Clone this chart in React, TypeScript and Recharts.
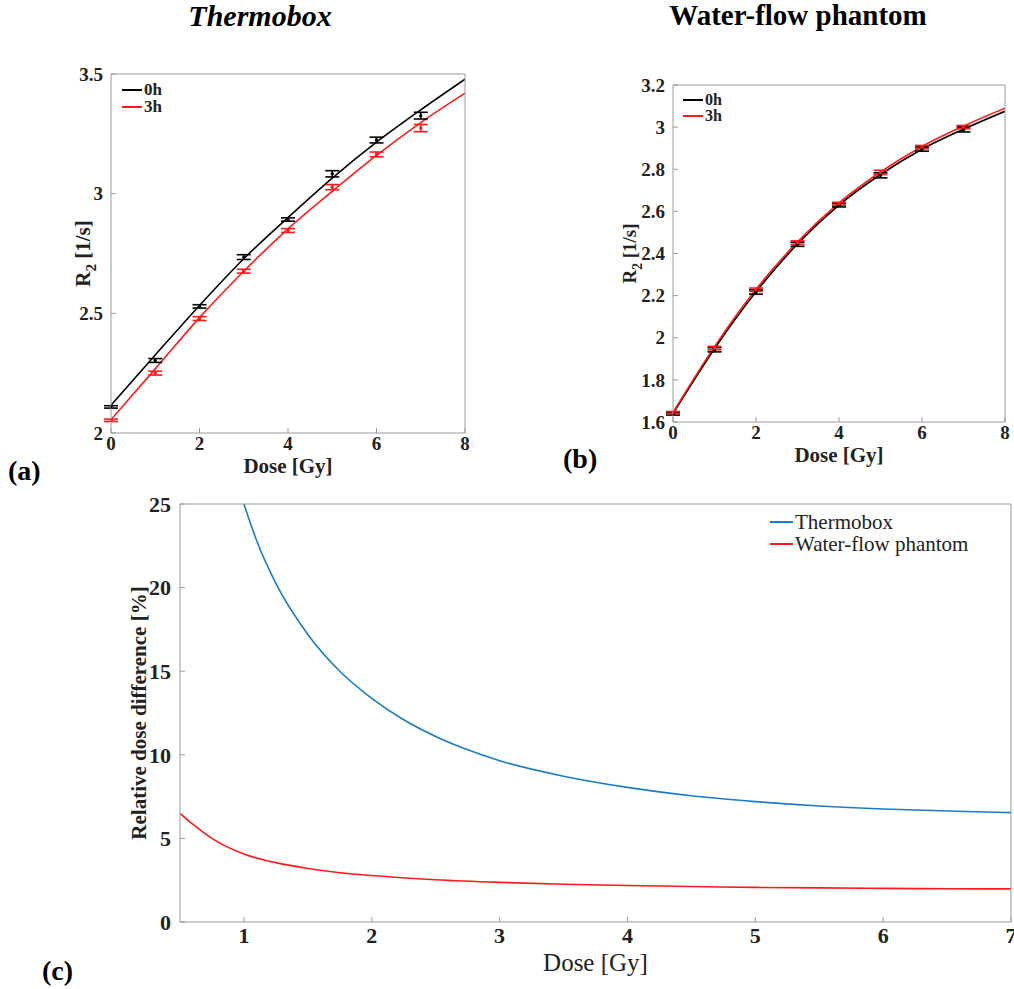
import {
  ComposedChart, Line, Scatter, XAxis, YAxis, ErrorBar, Legend, Label,
} from 'recharts'

const FONT = '"Liberation Serif", "DejaVu Serif", serif'
const AXIS = '#9a9a9a'
const INK = '#222'
const BLUE = '#1a7cc9'
const RED = '#ff1a1a'

// measured doses (Gy) and fit grid
const doses = [0, 1, 2, 3, 4, 5, 6, 7]
const fitDoses = [0, 1, 2, 3, 4, 5, 6, 7, 8]
const fitNames = ['0h', '3h']

// (a) Thermobox
const thermo0h = [2.109, 2.303, 2.529, 2.735, 2.892, 3.083, 3.224, 3.326]
const thermo0hErr = [0.005, 0.008, 0.007, 0.01, 0.007, 0.013, 0.012, 0.014]
const thermo3h = [2.053, 2.25, 2.478, 2.676, 2.846, 3.027, 3.164, 3.274]
const thermo3hErr = [0.005, 0.008, 0.008, 0.008, 0.008, 0.011, 0.01, 0.015]
const thermoFit0h = [2.116, 2.326, 2.533, 2.728, 2.9, 3.065, 3.215, 3.35, 3.478]
const thermoFit3h = [2.056, 2.268, 2.482, 2.676, 2.853, 3.01, 3.16, 3.297, 3.42]

// (b) Water-flow phantom
const water0h = [1.639, 1.943, 2.217, 2.444, 2.629, 2.771, 2.896, 2.989]
const water0hErr = [0.006, 0.01, 0.01, 0.01, 0.008, 0.012, 0.01, 0.012]
const water3h = [1.645, 1.951, 2.228, 2.452, 2.636, 2.785, 2.905, 3.0]
const water3hErr = [0.005, 0.008, 0.008, 0.008, 0.007, 0.01, 0.008, 0.008]
const waterFit0h = [1.64, 1.948, 2.218, 2.445, 2.63, 2.775, 2.895, 2.99, 3.075]
const waterFit3h = [1.645, 1.958, 2.23, 2.455, 2.64, 2.787, 2.908, 3.005, 3.09]

// (c) relative dose difference [%]
const diffNames = ['Thermobox', 'Water-flow phantom']
const thermoDiffDose = [1.0, 1.1, 1.25, 1.5, 1.75, 2.0, 2.25, 2.5, 2.75, 3.0, 3.5, 4.0, 4.5, 5.0, 5.5, 6.0, 6.5, 7.0]
const thermoDiff = [25.0, 22.8, 20.25, 17.2, 15.0, 13.38, 12.1, 11.1, 10.3, 9.65, 8.72, 8.05, 7.55, 7.2, 6.94, 6.76, 6.64, 6.54]
const waterDiffDose = [0.5, 0.6, 0.75, 1.0, 1.25, 1.5, 1.75, 2.0, 2.5, 3.0, 3.5, 4.0, 4.5, 5.0, 5.5, 6.0, 6.5, 7.0]
const waterDiff = [6.5, 5.85, 5.0, 4.06, 3.55, 3.2, 2.95, 2.78, 2.53, 2.37, 2.26, 2.18, 2.12, 2.07, 2.04, 2.01, 1.99, 1.98]

const abXTicks = [0, 2, 4, 6, 8]
const aYTicks = [2, 2.5, 3, 3.5]
const bYTicks = [1.6, 1.8, 2, 2.2, 2.4, 2.6, 2.8, 3, 3.2]
const cXTicks = [1, 2, 3, 4, 5, 6, 7]
const cYTicks = [0, 5, 10, 15, 20, 25]

type Pt = { d: number; r: number; e?: number }
const pts = (xs: number[], ys: number[], es?: number[]): Pt[] =>
  xs.map((d, i) => ({ d, r: ys[i], e: es ? es[i] : undefined }))

const dot = (color: string) => (p: any) => <circle cx={p.cx} cy={p.cy} r={1.7} fill={color} />

function R2Title({ viewBox, dx, size }: any) {
  const cx = viewBox.x + dx
  const cy = viewBox.y + viewBox.height / 2
  return (
    <text x={cx} y={cy} transform={`rotate(-90 ${cx} ${cy})`} textAnchor="middle"
      fontFamily={FONT} fontWeight="bold" fontSize={size} fill={INK}>
      R<tspan dy={size * 0.3} fontSize={size * 0.72}>2</tspan>
      <tspan dy={-size * 0.3}> [1/s]</tspan>
    </text>
  )
}

function DoseTitle({ viewBox, dy, size, weight }: any) {
  return (
    <text x={viewBox.x + viewBox.width / 2} y={viewBox.y + dy} textAnchor="middle"
      fontFamily={FONT} fontWeight={weight} fontSize={size} fill={INK}>Dose [Gy]</text>
  )
}

function KeyBox({ payload, names, size, row, lineW, weight }: any) {
  const items = (payload || []).filter((p: any) => names.includes(p.value))
  return (
    <div style={{ fontFamily: FONT, fontWeight: weight, fontSize: size, lineHeight: `${row}px`, color: INK }}>
      {items.map((p: any) => (
        <div key={p.value} style={{ display: 'flex', alignItems: 'center', height: row, whiteSpace: 'nowrap' }}>
          <span style={{ display: 'inline-block', width: lineW, height: 2, background: p.color, marginRight: 2 }} />
          {p.value}
        </div>
      ))}
    </div>
  )
}

const abTick = { fill: INK, fontFamily: FONT, fontSize: 19, fontWeight: 'bold' }

function FitPanel(props: {
  width: number; height: number; margin: any; yW: number; xH: number
  yDomain: [number, number]; yTicks: number[]
  m0: Pt[]; m3: Pt[]; f0: Pt[]; f3: Pt[]
  yTitleDx: number; yTitleSize: number; xTitleDy: number
  legendPos: { left: number; top: number }; legendRow: number; legendSize: number
}) {
  const p = props
  return (
    <ComposedChart width={p.width} height={p.height} margin={p.margin}>
      <XAxis dataKey="d" type="number" domain={[0, 8]} ticks={abXTicks} interval={0} allowDataOverflow
        height={p.xH} tickSize={-5} tickMargin={9} stroke={AXIS} tick={abTick}>
        <Label content={(lp: any) => <DoseTitle viewBox={lp.viewBox} dy={p.xTitleDy} size={21} weight="bold" />} />
      </XAxis>
      <YAxis dataKey="r" type="number" domain={p.yDomain} ticks={p.yTicks} interval={0} allowDataOverflow
        width={p.yW} tickSize={-5} tickMargin={13} stroke={AXIS} tick={abTick}>
        <Label content={(lp: any) => <R2Title viewBox={lp.viewBox} dx={p.yTitleDx} size={p.yTitleSize} />} />
      </YAxis>
      <XAxis xAxisId="top" orientation="top" dataKey="d" type="number" domain={[0, 8]} ticks={abXTicks} interval={0}
        allowDataOverflow height={1} tick={false} tickSize={-5} stroke={AXIS} />
      <YAxis yAxisId="right" orientation="right" type="number" domain={p.yDomain} ticks={p.yTicks} interval={0}
        allowDataOverflow width={1} tick={false} tickSize={-5} stroke={AXIS} />
      {/* invisible copy so the box axes (top/right) get drawn */}
      <Line xAxisId="top" yAxisId="right" data={p.f0} dataKey="r" name="box" stroke="none" legendType="none"
        dot={false} activeDot={false} isAnimationActive={false} />
      <Line data={p.f0} dataKey="r" name="0h" type="monotone" stroke="#000" strokeWidth={1.6}
        dot={false} activeDot={false} isAnimationActive={false} />
      <Line data={p.f3} dataKey="r" name="3h" type="monotone" stroke={RED} strokeWidth={1.6}
        dot={false} activeDot={false} isAnimationActive={false} />
      <Scatter data={p.m0} dataKey="r" legendType="none" shape={dot('#000')} isAnimationActive={false}>
        <ErrorBar dataKey="e" direction="y" width={7} stroke="#000" strokeWidth={1.6} />
      </Scatter>
      <Scatter data={p.m3} dataKey="r" legendType="none" shape={dot(RED)} isAnimationActive={false}>
        <ErrorBar dataKey="e" direction="y" width={7} stroke={RED} strokeWidth={1.6} />
      </Scatter>
      <Legend layout="vertical" align="center" verticalAlign="middle"
        wrapperStyle={{ left: p.legendPos.left, top: p.legendPos.top, width: 'auto', height: 'auto' }}
        content={(lp: any) => <KeyBox payload={lp.payload} names={fitNames} size={p.legendSize} row={p.legendRow} lineW={20} weight="bold" />} />
    </ComposedChart>
  )
}

function DiffPanel() {
  const cTick = { fill: INK, fontFamily: FONT, fontSize: 22, fontWeight: 'bold' }
  const thermo = pts(thermoDiffDose, thermoDiff)
  return (
    <ComposedChart width={1014} height={499} margin={{ top: 13, right: 2, bottom: 0, left: 0 }}>
      <XAxis dataKey="d" type="number" domain={[0.5, 7]} ticks={cXTicks} interval={0} allowDataOverflow
        height={67} tickSize={-5} tickMargin={10} stroke={AXIS} tick={cTick}>
        <Label content={(lp: any) => <DoseTitle viewBox={lp.viewBox} dy={49} size={25} weight="normal" />} />
      </XAxis>
      <YAxis dataKey="r" type="number" domain={[0, 25]} ticks={cYTicks} interval={0} allowDataOverflow
        width={180} tickSize={-5} tickMargin={14} stroke={AXIS} tick={cTick}>
        <Label content={(lp: any) => {
          const cx = lp.viewBox.x + 146
          const cy = lp.viewBox.y + lp.viewBox.height / 2
          return (
            <text x={cx} y={cy} transform={`rotate(-90 ${cx} ${cy})`} textAnchor="middle"
              fontFamily={FONT} fontWeight="bold" fontSize={21} fill={INK}>Relative dose difference [%]</text>
          )
        }} />
      </YAxis>
      <XAxis xAxisId="top" orientation="top" dataKey="d" type="number" domain={[0.5, 7]} ticks={cXTicks} interval={0}
        allowDataOverflow height={1} tick={false} tickSize={-5} stroke={AXIS} />
      <YAxis yAxisId="right" orientation="right" type="number" domain={[0, 25]} ticks={cYTicks} interval={0}
        allowDataOverflow width={1} tick={false} tickSize={-5} stroke={AXIS} />
      <Line xAxisId="top" yAxisId="right" data={thermo} dataKey="r" name="box" stroke="none" legendType="none"
        dot={false} activeDot={false} isAnimationActive={false} />
      <Line data={thermo} dataKey="r" name={diffNames[0]} type="monotone" stroke={BLUE}
        strokeWidth={1.6} dot={false} activeDot={false} isAnimationActive={false} />
      <Line data={pts(waterDiffDose, waterDiff)} dataKey="r" name={diffNames[1]} type="monotone" stroke={RED}
        strokeWidth={1.6} dot={false} activeDot={false} isAnimationActive={false} />
      <Legend layout="vertical" align="center" verticalAlign="middle"
        wrapperStyle={{ left: 770, top: 21, width: 'auto', height: 'auto' }}
        content={(lp: any) => <KeyBox payload={lp.payload} names={diffNames} size={21} row={22} lineW={23} weight="normal" />} />
    </ComposedChart>
  )
}

export default function App() {
  return (
    <div style={{ position: 'absolute', left: 0, top: 0, width: 1014, height: 989, background: '#fff', overflow: 'hidden' }}>
      <div style={{ position: 'absolute', left: 0, top: 0 }}>
        <FitPanel width={480} height={480} margin={{ top: 73, right: 14, bottom: 0, left: 0 }} yW={111} xH={47}
          yDomain={[2, 3.5]} yTicks={aYTicks}
          m0={pts(doses, thermo0h, thermo0hErr)} m3={pts(doses, thermo3h, thermo3hErr)}
          f0={pts(fitDoses, thermoFit0h)} f3={pts(fitDoses, thermoFit3h)}
          yTitleDx={90} yTitleSize={21} xTitleDy={40}
          legendPos={{ left: 122, top: 81 }} legendRow={17} legendSize={17} />
      </div>
      <div style={{ position: 'absolute', left: 560, top: 0 }}>
        <FitPanel width={454} height={470} margin={{ top: 84, right: 8, bottom: 0, left: 0 }} yW={113} xH={48}
          yDomain={[1.6, 3.2]} yTicks={bYTicks}
          m0={pts(doses, water0h, water0hErr)} m3={pts(doses, water3h, water3hErr)}
          f0={pts(fitDoses, waterFit0h)} f3={pts(fitDoses, waterFit3h)}
          yTitleDx={76} yTitleSize={19} xTitleDy={40}
          legendPos={{ left: 123, top: 92 }} legendRow={16} legendSize={16} />
      </div>
      <div style={{ position: 'absolute', left: 0, top: 490 }}>
        <DiffPanel />
      </div>
      <svg width={1014} height={989} style={{ position: 'absolute', left: 0, top: 0, pointerEvents: 'none' }}
        fontFamily={FONT} fill="#000">
        <text x={260} y={26} textAnchor="middle" fontStyle="italic" fontWeight="bold" fontSize={30}>Thermobox</text>
        <text x={798} y={25} textAnchor="middle" fontWeight="bold" fontSize={29}>Water-flow phantom</text>
        <text x={8} y={480} fontWeight="bold" fontSize={28}>(a)</text>
        <text x={563} y={468} fontWeight="bold" fontSize={28}>(b)</text>
        <text x={42} y={980} fontWeight="bold" fontSize={28}>(c)</text>
      </svg>
    </div>
  )
}
